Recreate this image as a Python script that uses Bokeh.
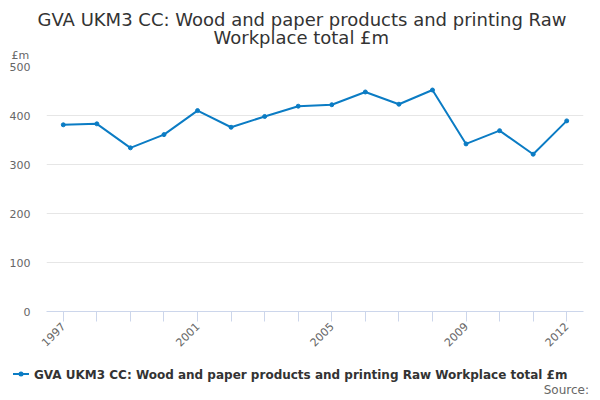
from bokeh.plotting import figure
from bokeh.layouts import column
from bokeh.models import (ColumnDataSource, FixedTicker, Range1d, Title, Div)
from bokeh.embed import file_html
from bokeh.resources import INLINE

years = [1997, 1998, 1999, 2000, 2001, 2002, 2003, 2004, 2005, 2006, 2007, 2008, 2009, 2010, 2011, 2012]
gva = [381, 383, 334, 361, 410, 376, 398, 419, 422, 448, 423, 452, 342, 369, 321, 389]
labelled_years = [1997, 2001, 2005, 2009, 2012]
y_ticks = [0, 100, 200, 300, 400, 500]
series_name = "GVA UKM3 CC: Wood and paper products and printing Raw Workplace total £m"
title_lines = ["GVA UKM3 CC: Wood and paper products and printing Raw", "Workplace total £m"]
unit_label = "£m"
source_text = "Source:"

FONT = "DejaVu Sans"
BLUE = "#0b7cc4"
MAIN_H = 362
STRIP_H = 400 - MAIN_H

src = ColumnDataSource(dict(x=years, y=gva))

p = figure(width=600, height=MAIN_H, output_backend="svg", toolbar_location=None,
           x_range=Range1d(1996.5, 2012.5), y_range=Range1d(0, 500),
           min_border_left=46, min_border_right=17, min_border_top=66,
           min_border_bottom=MAIN_H - 311)
p.outline_line_color = None
p.background_fill_color = "white"
p.border_fill_color = "white"

line_r = p.line("x", "y", source=src, line_color=BLUE, line_width=2)
pts_r = p.scatter("x", "y", source=src, size=4, fill_color=BLUE, line_color=BLUE)

# x axis
xa = p.xaxis[0]
xa.ticker = FixedTicker(ticks=years)
xa.major_label_overrides = {y: (str(y) if y in labelled_years else "") for y in years}
xa.major_label_orientation = 0.785398
xa.axis_line_color = "#ccd6eb"
xa.major_tick_line_color = "#ccd6eb"
xa.major_tick_out = 10
xa.major_tick_in = 0
xa.minor_tick_line_color = None
xa.major_label_text_font = FONT
xa.major_label_text_font_size = "11px"
xa.major_label_text_color = "#666666"
xa.major_label_standoff = 3
p.xgrid.grid_line_color = None

# y axis
ya = p.yaxis[0]
ya.ticker = FixedTicker(ticks=y_ticks)
ya.axis_line_color = None
ya.major_tick_line_color = None
ya.minor_tick_line_color = None
ya.major_label_text_font = FONT
ya.major_label_text_font_size = "11px"
ya.major_label_text_color = "#666666"
ya.major_label_standoff = 10
p.ygrid.grid_line_color = "#e6e6e6"
p.ygrid.ticker = FixedTicker(ticks=y_ticks)

# title stack: unit label closest to the frame, then line 2, then line 1 (p.title, outermost)
p.add_layout(Title(text=unit_label, align="left", offset=-35, standoff=9,
                   text_font=FONT, text_font_size="11px", text_font_style="normal",
                   text_color="#666666"), "above")
p.add_layout(Title(text=title_lines[1], align="left", offset=167, standoff=-11,
                   text_font=FONT, text_font_size="18px", text_font_style="normal",
                   text_color="#333333"), "above")
p.title.text = title_lines[0]
p.title.align = "left"
p.title.offset = -9
p.title.standoff = 2
p.title.text_font = FONT
p.title.text_font_size = "18px"
p.title.text_font_style = "normal"
p.title.text_color = "#333333"

# legend and source strip below the chart
legend_html = f"""
<div style="position:relative;width:600px;height:{STRIP_H}px;font-family:'{FONT}';">
  <svg style="position:absolute;left:13px;top:8px;" width="17" height="8">
    <line x1="0" y1="4" x2="16" y2="4" stroke="{BLUE}" stroke-width="2"></line>
    <circle cx="8" cy="4" r="2.5" fill="{BLUE}"></circle>
  </svg>
  <span style="position:absolute;left:34px;top:6px;font-size:12px;line-height:14px;
               font-weight:bold;color:#333333;white-space:nowrap;">{series_name}</span>
  <span style="position:absolute;right:11px;top:21px;font-size:12px;line-height:14px;
               color:#666666;white-space:nowrap;">{source_text}</span>
</div>
"""
strip = Div(text=legend_html, width=600, height=STRIP_H, margin=(0, 0, 0, 0))

layout = column(p, strip, spacing=0)
open("out.html", "w").write(file_html(layout, INLINE))
